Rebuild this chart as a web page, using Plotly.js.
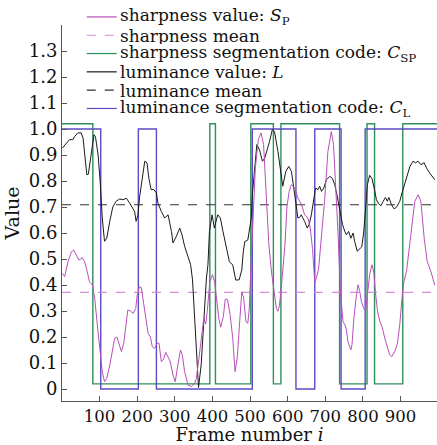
<!DOCTYPE html>
<html><head><meta charset="utf-8">
<script src="https://cdn.plot.ly/plotly-3.0.1.min.js"></script>
<style>html,body{margin:0;padding:0;background:#fff;} #chart{width:437px;height:445px;}</style>
</head><body><div id="chart"></div>
<script>
// ---- data ----
const lumFrames = [1,11,20,29,34,42,51,56,60,66,70,78,85,89,96,102,107,113,119,127,135,144,153,162,171,180,187,193,197,202,206,213,220,226,231,237,244,251,255,264,273,282,291,295,304,313,319,326,335,342,347,352,357,363,370,377,384,388,392,399,405,414,421,428,436,445,454,462,471,478,482,486,494,498,503,506,512,518,525,533,539,545,552,559,565,574,581,587,595,603,610,614,619,623,627,632,636,641,645,652,657,663,669,674,681,685,690,696,703,712,719,725,731,738,746,752,756,762,768,774,778,785,791,797,802,807,812,818,824,830,836,842,848,854,860,865,869,876,883,889,898,904,911,918,925,933,940,947,954,963,969,978,987,991];
const lumValues = [0.927,0.942,0.959,0.959,0.972,0.985,0.985,0.965,0.914,0.824,0.826,0.914,0.978,0.97,0.90,0.786,0.658,0.568,0.58,0.645,0.70,0.722,0.731,0.728,0.734,0.715,0.696,0.683,0.645,0.67,0.735,0.81,0.876,0.87,0.81,0.767,0.767,0.754,0.715,0.683,0.658,0.67,0.606,0.562,0.587,0.619,0.593,0.549,0.504,0.478,0.42,0.30,0.16,0.006,0.093,0.273,0.427,0.478,0.606,0.67,0.619,0.67,0.658,0.606,0.555,0.49,0.477,0.419,0.42,0.458,0.528,0.567,0.573,0.618,0.656,0.747,0.85,0.94,0.92,0.876,0.888,0.914,0.953,0.997,0.99,0.914,0.837,0.78,0.837,0.856,0.837,0.80,0.735,0.703,0.658,0.66,0.67,0.658,0.645,0.619,0.632,0.67,0.722,0.773,0.767,0.78,0.76,0.773,0.805,0.818,0.81,0.786,0.747,0.696,0.632,0.606,0.593,0.606,0.58,0.60,0.568,0.53,0.54,0.547,0.60,0.68,0.786,0.822,0.81,0.773,0.728,0.712,0.705,0.722,0.737,0.722,0.737,0.709,0.693,0.699,0.722,0.754,0.786,0.824,0.856,0.876,0.87,0.876,0.863,0.87,0.85,0.83,0.81,0.805];

const sharpFrames = [1,7,16,25,31,38,45,54,60,66,73,81,87,93,100,107,113,119,127,134,140,146,151,158,164,169,175,182,189,196,200,206,211,217,224,229,235,240,246,253,258,264,270,276,282,288,295,301,308,315,320,326,335,344,353,357,364,371,377,382,386,393,400,406,412,417,422,429,434,440,447,454,460,466,472,478,483,489,494,498,503,508,514,522,529,536,543,550,557,563,570,574,578,583,588,593,598,604,610,619,627,637,645,654,660,666,672,677,682,688,694,698,707,716,722,728,734,740,747,752,756,760,768,771,776,783,787,791,796,802,807,812,818,824,829,833,839,845,851,858,865,871,877,885,892,898,904,909,916,920,929,938,947,954,963,971,981,991];
const sharpValues = [0.445,0.432,0.49,0.528,0.535,0.515,0.496,0.505,0.49,0.458,0.413,0.40,0.349,0.259,0.156,0.067,0.028,0.041,0.092,0.156,0.195,0.20,0.176,0.144,0.176,0.233,0.304,0.30,0.291,0.31,0.362,0.393,0.39,0.33,0.272,0.214,0.20,0.163,0.156,0.176,0.176,0.105,0.115,0.141,0.123,0.105,0.054,0.028,0.092,0.15,0.13,0.067,0.015,0.01,0.022,0.04,0.118,0.208,0.272,0.25,0.297,0.413,0.44,0.41,0.345,0.27,0.238,0.28,0.345,0.345,0.286,0.195,0.067,0.12,0.25,0.374,0.35,0.259,0.253,0.31,0.50,0.68,0.85,0.96,0.985,0.94,0.722,0.555,0.45,0.376,0.31,0.299,0.32,0.388,0.46,0.56,0.70,0.76,0.786,0.773,0.735,0.709,0.67,0.658,0.619,0.54,0.41,0.43,0.46,0.56,0.66,0.722,0.914,0.99,0.94,0.786,0.593,0.38,0.26,0.247,0.23,0.183,0.151,0.17,0.273,0.363,0.401,0.38,0.337,0.31,0.30,0.363,0.44,0.478,0.45,0.376,0.299,0.26,0.24,0.196,0.158,0.132,0.125,0.145,0.177,0.247,0.35,0.414,0.453,0.504,0.619,0.722,0.747,0.722,0.58,0.49,0.451,0.40];

const sharpMean = 0.372;
const lumMean = 0.709;

const sharpCodeFrames = [0,82,393,408,502,562,582,738,811,831,906,1000];
const sharpCodeValues = [1.02,0.02,1.02,0.02,1.02,0.02,1.02,0.02,1.02,0.02,1.02,1.02];
const lumCodeFrames = [0,103,203,251,506,622,672,742,806,1000];
const lumCodeValues = [1,0,1,0,1,0,1,0,1,1];

const meanFrames = [0, 1000];
const xTickVals = [100,200,300,400,500,600,700,800,900];
const yTickVals = [0,0.1,0.2,0.3,0.4,0.5,0.6,0.7,0.8,0.9,1.0,1.1,1.2,1.3];
const yTickText = ['0','0.1','0.2','0.3','0.4','0.5','0.6','0.7','0.8','0.9','1.0','1.1','1.2','1.3'];

const names = [
  'sharpness value: <i>S</i><sub>P</sub>',
  'sharpness mean',
  'sharpness segmentation code: <i>C</i><sub>SP</sub>',
  'luminance value: <i>L</i>',
  'luminance mean',
  'luminance segmentation code: <i>C</i><sub>L</sub>'
];

// ---- styles ----
const PINK = '#b84fb8', PINK_L = '#d48fd4', GREEN = '#2f8f5b', BLACK = '#1a1a1a', PURPLE = '#5b4bc4';
const FONT = 'DejaVu Serif, serif';

const traces = [
  {x: sharpFrames, y: sharpValues, mode:'lines', line:{color:PINK, width:1}},
  {x: meanFrames, y: [sharpMean, sharpMean], mode:'lines', line:{color:PINK_L, width:1.3, dash:'dash'}},
  {x: sharpCodeFrames, y: sharpCodeValues, mode:'lines', line:{color:GREEN, width:1.4, shape:'hv'}},
  {x: lumFrames, y: lumValues, mode:'lines', line:{color:BLACK, width:1}},
  {x: meanFrames, y: [lumMean, lumMean], mode:'lines', line:{color:'#333', width:1.1, dash:'dash'}},
  {x: lumCodeFrames, y: lumCodeValues, mode:'lines', line:{color:PURPLE, width:1.4, shape:'hv'}}
].map((t,i)=>Object.assign(t,{name:names[i], showlegend:false, hoverinfo:'skip'}));

// draw order: codes behind curves
const order = [2,5,1,4,3,0];
const data = order.map(i=>traces[i]);

// custom legend (annotations + sample lines)
const legX0 = 0.066, legX1 = 0.146, legTextX = 0.152;
const legY0 = 1.0215, legDy = 0.0487;
const shapes = [], annotations = [];
traces.forEach((t,i)=>{
  const y = legY0 - i*legDy;
  shapes.push({type:'line', xref:'paper', yref:'paper', x0:legX0, x1:legX1, y0:y, y1:y,
    line:{color:t.line.color, width:1.2, dash:t.line.dash||'solid'}});
  annotations.push({xref:'paper', yref:'paper', x:legTextX, y:y, xanchor:'left', yanchor:'middle',
    height:17, valign:'middle', borderpad:0,
    text:t.name, showarrow:false, font:{family:FONT, size:17, color:'#111'}});
});

const layout = {
  width:437, height:445,
  margin:{l:62, r:0, t:25, b:44},
  paper_bgcolor:'#fff', plot_bgcolor:'#fff',
  font:{family:FONT, color:'#111'},
  showlegend:false,
  xaxis:{range:[0,997], tickvals:xTickVals, ticks:'inside', ticklen:5, tickcolor:'#555',
    showline:true, linecolor:'#555', linewidth:1, showgrid:false, zeroline:false,
    tickfont:{family:FONT, size:16.5, color:'#111'},
    title:{text:'Frame number <i>i</i>', font:{family:FONT, size:18, color:'#111'}, standoff:2}},
  yaxis:{range:[-0.046,1.4], tickvals:yTickVals, ticktext:yTickText, ticks:'inside', ticklen:5, tickcolor:'#555',
    showline:true, linecolor:'#555', linewidth:1, showgrid:false, zeroline:false,
    tickfont:{family:FONT, size:18, color:'#111'},
    title:{text:'Value', font:{family:FONT, size:19, color:'#111'}, standoff:4}},
  shapes:shapes, annotations:annotations
};

Plotly.newPlot('chart', data, layout, {staticPlot:true, displayModeBar:false});
</script>
</body></html>
